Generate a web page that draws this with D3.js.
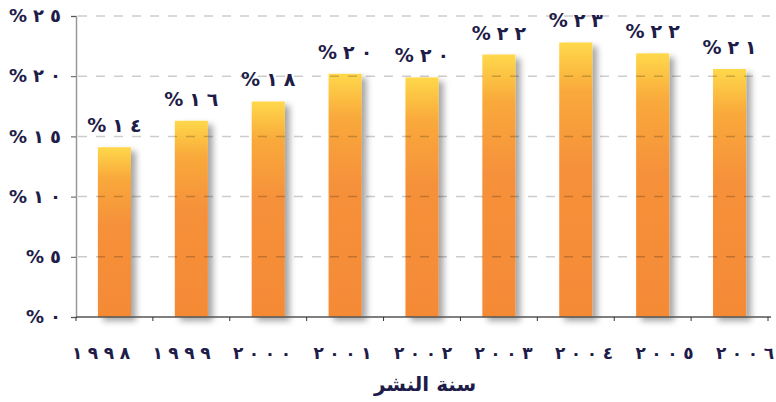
<!DOCTYPE html>
<html>
<head>
<meta charset="utf-8">
<script src="https://cdn.jsdelivr.net/npm/d3@7"></script>
<style>
  body { margin: 0; background: #fff; }
  svg text { font-family: "DejaVu Sans", sans-serif; font-weight: bold; fill: #1e1c48; }
</style>
</head>
<body>
<script>
// values
const years = ['١٩٩٨', '١٩٩٩', '٢٠٠٠', '٢٠٠١', '٢٠٠٢', '٢٠٠٣', '٢٠٠٤', '٢٠٠٥', '٢٠٠٦'];
const shares = [14.1, 16.3, 17.9, 20.2, 19.9, 21.8, 22.8, 21.9, 20.6];
const shareLabels = ['%١٤', '%١٦', '%١٨', '%٢٠', '%٢٠', '%٢٢', '%٢٣', '%٢٢', '%٢١'];
const yTicks = [0, 5, 10, 15, 20, 25];
const yTickLabels = ['%٠', '%٥', '%١٠', '%١٥', '%٢٠', '%٢٥'];
const xTitle = 'سنة النشر';

const W = 776, H = 402;
const margin = { left: 76, right: 768, top: 16, bottom: 317 };

// letter-spacing is ignored for these digits, so space the glyphs by hand
function spaced(sel, gap) {
    sel.each(function (d) {
        let t = d3.select(this), s = t.text();
        t.text(null);
        t.selectAll('tspan').data(Array.from(s)).join('tspan')
            .attr('dx', (c, j) => j ? gap : 0)
            .text(c => c);
    });
}

let svg = d3.select('body').append('svg').attr('width', W).attr('height', H);

let defs = svg.append('defs');
let grad = defs.append('linearGradient').attr('id', 'barGrad')
    .attr('x1', 0).attr('y1', 0).attr('x2', 0).attr('y2', 1);
[['0%', '#ffd84a'], ['18%', '#f9a93b'], ['45%', '#f6913a'], ['100%', '#f58a36']]
    .forEach(s => grad.append('stop').attr('offset', s[0]).attr('stop-color', s[1]));

defs.append('filter').attr('id', 'shadow').attr('x', '-30%').attr('y', '-10%').attr('width', '180%').attr('height', '130%')
    .append('feDropShadow').attr('dx', 5).attr('dy', 4).attr('stdDeviation', 3)
    .attr('flood-color', '#000').attr('flood-opacity', 0.35);

let x = d3.scaleBand().domain(years).range([margin.left, margin.right]).paddingInner(0.57).paddingOuter(0.285);
let y = d3.scaleLinear().domain([0, 25]).range([margin.bottom, margin.top]);
let xLab = d3.scalePoint().domain(years).range([101, 745]);

// bars
svg.append('g').selectAll('rect').data(years).join('rect')
    .attr('x', d => x(d))
    .attr('width', x.bandwidth())
    .attr('y', (d, i) => y(shares[i]))
    .attr('height', (d, i) => y(0) - y(shares[i]))
    .attr('fill', 'url(#barGrad)')
    .attr('filter', 'url(#shadow)');

// dashed grid drawn on top of bars
svg.append('g').selectAll('line').data(yTicks.filter(t => t > 0)).join('line')
    .attr('x1', margin.left + 2).attr('x2', 770)
    .attr('y1', d => y(d)).attr('y2', d => y(d))
    .attr('stroke', 'rgba(0,0,0,0.2)').attr('stroke-width', 1.5)
    .attr('stroke-dasharray', '9,9');

// y axis
let yAxis = d3.axisLeft(y).tickValues(yTicks).tickSize(5).tickFormat((d, i) => yTickLabels[i]);
let gy = svg.append('g').attr('transform', `translate(${margin.left},0)`).call(yAxis);
gy.select('.domain').attr('stroke', '#999').attr('stroke-width', 1.5);
gy.selectAll('.tick line').attr('stroke', '#555');
gy.selectAll('.tick text').attr('x', -15).attr('font-size', 18).attr('fill', null).call(spaced, 6);

// x axis, ticks at band boundaries
let step = x.step();
let bounds = d3.range(years.length + 1).map(i => margin.left + i * step);
svg.append('line').attr('x1', margin.left).attr('x2', 771).attr('y1', margin.bottom).attr('y2', margin.bottom)
    .attr('stroke', '#555').attr('stroke-width', 1.5);
svg.append('g').selectAll('line').data(bounds).join('line')
    .attr('x1', d => d).attr('x2', d => d)
    .attr('y1', margin.bottom).attr('y2', margin.bottom + 4)
    .attr('stroke', '#333');

svg.append('g').selectAll('text').data(years).join('text')
    .attr('x', d => xLab(d))
    .attr('y', 359)
    .attr('text-anchor', 'middle')
    .attr('font-size', 17)
    .text(d => d)
    .call(spaced, 5.5);

// value labels
svg.append('g').selectAll('text').data(years).join('text')
    .attr('x', d => x(d) + x.bandwidth() / 2)
    .attr('y', (d, i) => y(shares[i]) - 15)
    .attr('text-anchor', 'middle')
    .attr('font-size', 19)
    .text((d, i) => shareLabels[i])
    .call(spaced, 6);

svg.append('text')
    .attr('x', 425).attr('y', 391)
    .attr('text-anchor', 'middle')
    .attr('font-size', 20)
    .attr('direction', 'rtl')
    .text(xTitle);
</script>
</body>
</html>
